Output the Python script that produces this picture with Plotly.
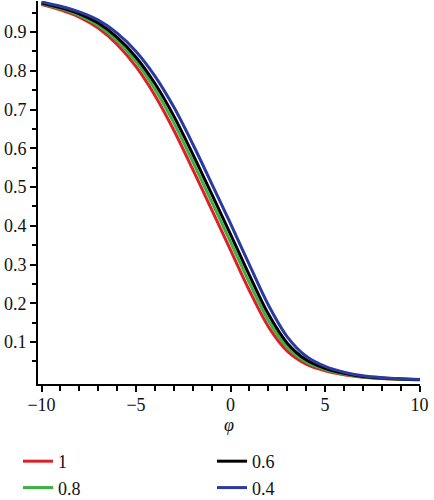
import plotly.graph_objects as go

phi = [-10, -9, -8, -7, -6, -5, -4, -3, -2, -1, 0, 1, 2, 3, 4, 5, 6, 7, 8, 9, 10]

y_1 = [0.9708, 0.9572, 0.9386, 0.9101, 0.8678, 0.8105, 0.7362, 0.6464, 0.5454, 0.4415, 0.3369,
       0.2323, 0.1398, 0.0764, 0.0429, 0.0259, 0.0153, 0.0090, 0.0058, 0.0038, 0.0025]
y_08 = [0.9730, 0.9602, 0.9431, 0.9170, 0.8774, 0.8234, 0.7523, 0.6655, 0.5658, 0.4623, 0.3580,
        0.2525, 0.1558, 0.0864, 0.0482, 0.0288, 0.0171, 0.0099, 0.0064, 0.0041, 0.0028]
y_06 = [0.975, 0.963, 0.947, 0.923, 0.886, 0.835, 0.767, 0.683, 0.585, 0.482, 0.378,
        0.272, 0.172, 0.097, 0.054, 0.032, 0.019, 0.011, 0.007, 0.0045, 0.003]
y_04 = [0.9775, 0.9665, 0.9519, 0.9305, 0.8970, 0.8499, 0.7862, 0.7062, 0.6110, 0.5089, 0.4052,
        0.2990, 0.1956, 0.1134, 0.0632, 0.0369, 0.0219, 0.0127, 0.0079, 0.0051, 0.0033]

names = ["1", "0.8", "0.6", "0.4"]
series = [y_1, y_08, y_06, y_04]
colors = ["#dd2027", "#3cb043", "#000000", "#2b3aa3"]
ranks = [1, 3, 2, 4]

ytick_vals = [0.1, 0.2, 0.3, 0.4, 0.5, 0.6, 0.7, 0.8, 0.9]
ytick_text = ["0.1", "0.2", "0.3", "0.4", "0.5", "0.6", "0.7", "0.8", "0.9"]
yminor_vals = [0.05, 0.15, 0.25, 0.35, 0.45, 0.55, 0.65, 0.75, 0.85, 0.95]
xtick_vals = [-10, -5, 0, 5, 10]
xtick_text = ["\u221210", "\u22125", "0", "5", "10"]
xminor_vals = [-9, -8, -7, -6, -4, -3, -2, -1, 1, 2, 3, 4, 6, 7, 8, 9]

fig = go.Figure()
for name, ys, col, rk in zip(names, series, colors, ranks):
    fig.add_trace(go.Scatter(
        x=phi, y=ys, name=name, mode="lines",
        line=dict(color=col, width=3, shape="spline", smoothing=0.9),
        legendrank=rk,
    ))

font = dict(family="Liberation Serif", size=18, color="#111111")

fig.update_layout(
    width=434, height=500,
    margin=dict(l=38, r=14, t=1, b=116, autoexpand=False),
    paper_bgcolor="white", plot_bgcolor="white",
    font=font,
    showlegend=True,
    legend=dict(
        orientation="h",
        x=-0.0524, y=-0.154, xanchor="left", yanchor="top",
        entrywidth=149, entrywidthmode="pixels",
        font=font, tracegroupgap=0, itemwidth=30,
        bgcolor="rgba(0,0,0,0)",
    ),
    xaxis=dict(
        range=[-10.185, 10.02], showgrid=False, zeroline=False,
        showline=True, linecolor="black", linewidth=2,
        ticks="outside", ticklen=6, tickwidth=1.5, tickcolor="black",
        tickvals=xtick_vals, ticktext=xtick_text,
        ticklabelstandoff=-3,
        minor=dict(tickvals=xminor_vals, ticks="outside", ticklen=5,
                   tickwidth=1.5, tickcolor="black", showgrid=False),
        title=dict(text="<i>\u03c6</i>", standoff=4, font=font),
        tickfont=font, automargin=False,
    ),
    yaxis=dict(
        range=[-0.0084, 0.98], showgrid=False, zeroline=False,
        showline=True, linecolor="black", linewidth=2,
        ticks="outside", ticklen=6, tickwidth=1.5, tickcolor="black",
        tickvals=ytick_vals, ticktext=ytick_text,
        minor=dict(tickvals=yminor_vals, ticks="outside", ticklen=4,
                   tickwidth=1.5, tickcolor="black", showgrid=False),
        tickfont=font, automargin=False,
    ),
)

fig.write_html(
    "out.html",
    config={"displayModeBar": False},
    post_script="document.body.style.margin='0';document.body.style.overflow='hidden';",
)
